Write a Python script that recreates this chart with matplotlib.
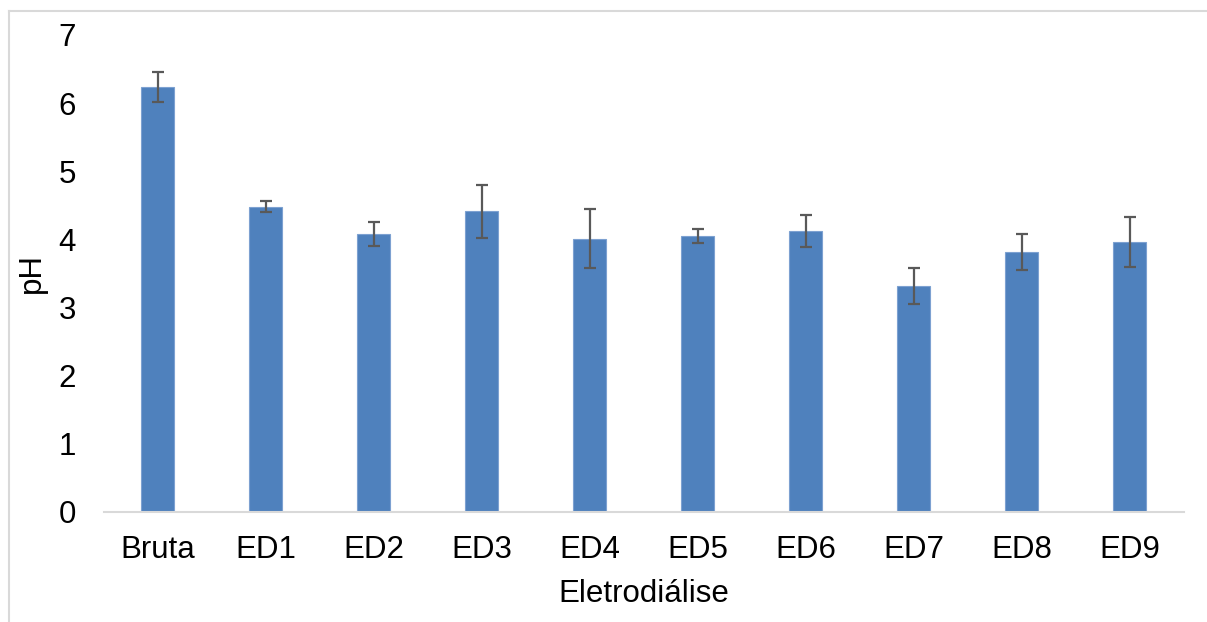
import matplotlib
matplotlib.use("Agg")
import matplotlib.pyplot as plt
from matplotlib.lines import Line2D
import numpy as np

# pH by sample (raw water and electrodialysis runs)
categories = ["Bruta", "ED1", "ED2", "ED3", "ED4", "ED5", "ED6", "ED7", "ED8", "ED9"]
ph_mean = [6.23, 4.48, 4.08, 4.41, 4.01, 4.05, 4.12, 3.31, 3.81, 3.96]
ph_err = [0.22, 0.085, 0.18, 0.39, 0.43, 0.10, 0.24, 0.265, 0.265, 0.365]
y_ticks = [0, 1, 2, 3, 4, 5, 6, 7]

plt.rcParams["font.family"] = ["Liberation Sans", "DejaVu Sans"]

W, H = 1207, 622
fig = plt.figure(figsize=(W / 100, H / 100), dpi=100)
fig.patch.set_facecolor("white")

# light chart border (top and left edges visible)
bx, by = 8.5 / W, 1 - 11 / H
fig.add_artist(Line2D([bx, 1.0], [by, by], transform=fig.transFigure,
                      color="#d9d9d9", linewidth=1.5))
fig.add_artist(Line2D([bx, bx], [0.0, by], transform=fig.transFigure,
                      color="#d9d9d9", linewidth=1.5))

left, right = 103.5 / W, 1183.5 / W
bottom, top = 1 - 511.7 / H, 1 - 35 / H
ax = fig.add_axes([left, bottom, right - left, top - bottom])

x = np.arange(len(categories))
ax.bar(x, ph_mean, width=0.31, color="#4f81bd", edgecolor="#7da1d1",
       linewidth=0.8, zorder=2)
ax.errorbar(x, ph_mean, yerr=ph_err, fmt="none", ecolor="#595959",
            elinewidth=1.6, capsize=4.3, capthick=1.6, zorder=3)

ax.set_xlim(-0.5, len(categories) - 0.5)
ax.set_ylim(0, 7)
ax.set_yticks(y_ticks)
ax.set_xticks(x)
ax.set_xticklabels(categories)

for side in ["left", "right", "top"]:
    ax.spines[side].set_visible(False)
ax.spines["bottom"].set_color("#d9d9d9")
ax.spines["bottom"].set_linewidth(1.5)

ax.tick_params(axis="y", length=0, pad=20, labelsize=22.5, labelcolor="black")
ax.tick_params(axis="x", length=0, pad=17, labelsize=22.5, labelcolor="black")

ax.set_xlabel("Eletrodiálise", fontsize=22.5, labelpad=10)
ax.set_ylabel("pH", fontsize=22.5, labelpad=8)

fig.savefig("out.png", dpi=100, facecolor="white")
